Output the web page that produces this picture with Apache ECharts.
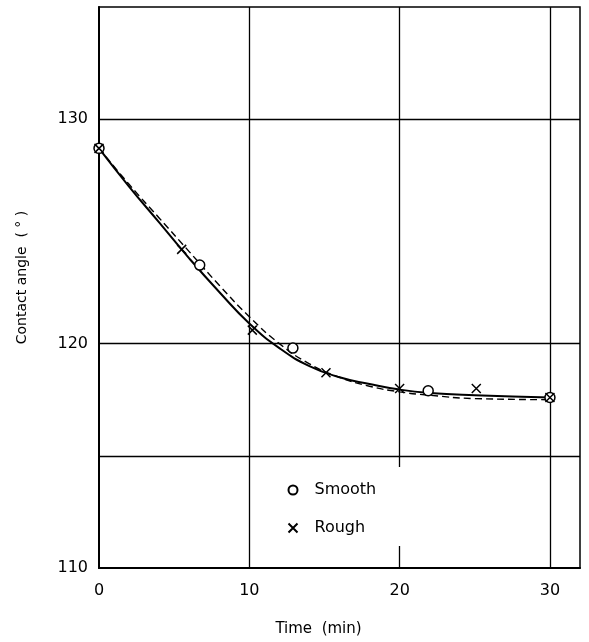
<!DOCTYPE html>
<html>
<head>
<meta charset="utf-8">
<script src="https://cdn.jsdelivr.net/npm/echarts@6/dist/echarts.min.js"></script>
<style>
  html, body { margin: 0; padding: 0; background: #fff; }
  #chart { width: 589px; height: 642px; }
</style>
</head>
<body>
<div id="chart"></div>
<script>
// measured points
var smoothPts = [[0, 128.7], [6.7, 123.5], [12.9, 119.8], [21.9, 117.9], [30, 117.6]];
var roughPts = [[0, 128.7], [5.5, 124.2], [10.2, 120.6], [15.1, 118.7], [20, 118.0], [25.1, 118.0], [30, 117.6]];

// fitted curves
var solidCurve = [[0, 128.7], [2, 127.0], [4, 125.4], [6, 123.8], [8, 122.3], [10, 120.9], [12, 119.8],
    [14, 119.0], [16, 118.5], [18, 118.2], [20, 117.95], [22, 117.8], [25, 117.7], [30, 117.6]];
var dashedCurve = [[0, 128.7], [2, 127.1], [4, 125.6], [6, 124.1], [8, 122.6], [10, 121.2], [12, 120.0],
    [14, 119.1], [16, 118.5], [18, 118.1], [20, 117.85], [22, 117.7], [25, 117.55], [30, 117.5]];

var yLabels = [110, 120, 130];
var xLabels = [0, 10, 20, 30];
var hGrid = [115, 120, 130];
var vGrid = [10, 20, 30];

var crossPath = 'path://M0,0L10,10M10,0L0,10';
var font = 'DejaVu Sans';

var chart = echarts.init(document.getElementById('chart'));

var gridLines = hGrid.map(function (v) { return {yAxis: v}; })
    .concat(vGrid.map(function (v) { return {xAxis: v}; }));

chart.setOption({
    animation: false,
    backgroundColor: '#fff',
    grid: {
        left: 99, right: 9, top: 7, bottom: 73,
        show: true, borderColor: '#000', borderWidth: 1.5
    },
    xAxis: {
        type: 'value', min: 0, max: 32, interval: 10,
        name: 'Time  (min)', nameLocation: 'middle', nameGap: 54,
        nameTextStyle: {fontFamily: font, fontSize: 15, color: '#000', padding: [0, 42, 0, 0]},
        axisLine: {lineStyle: {color: '#000', width: 2}},
        axisTick: {show: false},
        splitLine: {show: false},
        axisLabel: {
            fontFamily: font, fontSize: 16, color: '#000', margin: 15,
            formatter: function (v) { return xLabels.indexOf(v) >= 0 ? String(v) : ''; }
        }
    },
    yAxis: {
        type: 'value', min: 110, max: 135, interval: 5,
        name: 'Contact angle  ( ° )', nameLocation: 'middle', nameGap: 70,
        nameTextStyle: {fontFamily: font, fontSize: 14, color: '#000', padding: [0, 0, 0, 20]},
        axisLine: {lineStyle: {color: '#000', width: 2}},
        axisTick: {show: false},
        splitLine: {show: false},
        axisLabel: {
            fontFamily: font, fontSize: 16, color: '#000', margin: 11,
            formatter: function (v) { return yLabels.indexOf(v) >= 0 ? String(v) : ''; }
        }
    },
    legend: {
        data: [
            {name: 'Smooth', icon: 'circle'},
            {name: 'Rough', icon: crossPath}
        ],
        orient: 'vertical',
        left: 278, top: 467,
        itemWidth: 9, itemHeight: 9, itemGap: 22,
        padding: [15, 34, 10, 8],
        backgroundColor: '#fff',
        z: 6,
        textStyle: {fontFamily: font, fontSize: 16, color: '#000', padding: [0, 0, 0, 12]}
    },
    series: [
        {
            name: 'solid', type: 'line', data: solidCurve, smooth: true, showSymbol: false,
            lineStyle: {color: '#000', width: 2}, silent: true, z: 2,
            markLine: {
                silent: true, symbol: 'none', label: {show: false}, z: 1,
                lineStyle: {color: '#000', width: 1.3, type: 'solid'},
                data: gridLines
            }
        },
        {
            name: 'dashed', type: 'line', data: dashedCurve, smooth: true, showSymbol: false,
            lineStyle: {color: '#000', width: 1.4, type: [7, 4]}, silent: true, z: 2
        },
        {
            name: 'Smooth', type: 'scatter', data: smoothPts, symbol: 'circle', symbolSize: 10,
            itemStyle: {color: '#fff', borderColor: '#000', borderWidth: 1.5, opacity: 1}, z: 3
        },
        {
            name: 'Rough', type: 'scatter', data: roughPts, symbol: crossPath, symbolSize: 9,
            itemStyle: {color: 'none', borderColor: '#000', borderWidth: 1.5, opacity: 1}, z: 3
        }
    ]
});
</script>
</body>
</html>
